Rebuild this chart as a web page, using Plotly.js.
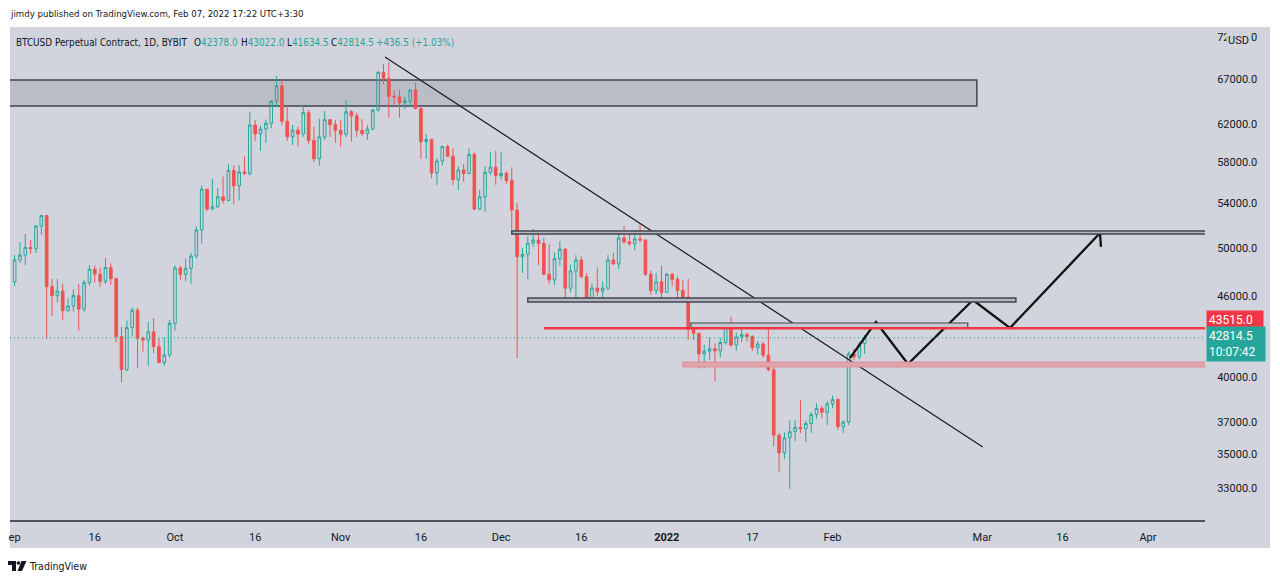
<!DOCTYPE html>
<html>
<head>
<meta charset="utf-8">
<script src="https://cdn.plot.ly/plotly-3.0.1.min.js"></script>
<style>
html,body{margin:0;padding:0;background:#ffffff;}
#chart{width:1280px;height:584px;}
</style>
</head>
<body>
<div id="chart"></div>
<script>
// ---- DATA (BTCUSD Perpetual, 1D, from 2021-09-01) ----
const firstDay = '2021-09-01';
const opens = [
  // Sep
  47150,48980,49400,50060,49950,51950,52890,46770,46040,46420,44860,45230,46050,44990,47090,
  48200,47800,47200,48350,47420,42900,40520,43570,44900,42780,42650,43250,42160,41010,41550,
  // Oct
  43900,48310,47780,48280,49320,51600,55360,53490,53700,54640,54300,57200,55700,57040,56900,
  61870,60920,61440,62060,64460,66200,62280,60620,61320,60920,63210,60240,58360,60610,62450,61900,
  // Nov
  61300,60900,63300,62860,61300,60950,61440,63500,67780,67080,65010,64950,64300,64490,65740,
  63650,60110,60350,56950,58130,59600,58620,56290,57240,56890,58810,53490,54630,57000,57520,
  // Dec
  56680,56900,56190,53400,49260,49460,50430,50700,50400,47790,47330,49100,49900,46650,48060,
  48980,47580,45860,46660,46400,46650,48980,48650,50880,50530,50380,50800,50700,47790,46470,47160,
  // Jan
  46310,47780,47360,46470,45940,43460,43150,41630,41830,42000,41850,42460,43590,42280,42870,
  43050,42900,42080,42350,41540,40510,36170,35080,36000,36390,36660,36580,36910,37480,37890,37630,
  // Feb
  38180,38470,36700,37000,41630,41410,42378
];
const highs = [
  49400,50520,51230,50700,52040,52980,52950,47400,47400,47030,45850,46550,47000,47310,48540,
  48500,48300,49150,48700,47500,43640,44100,45100,45100,42900,44000,44300,42800,42850,44150,
  48500,48500,49100,49600,51900,55700,55400,56350,55500,56590,57800,57700,57700,58600,63300,
  62400,61800,62470,64610,67350,66880,63990,61870,61700,63990,63500,61690,62540,63380,62500,62400,
  62400,64600,63500,63200,62500,61870,63600,67900,68780,69000,65740,65740,65000,65800,66570,
  63800,60900,60400,58400,59700,59800,59450,57600,57840,59400,59000,55300,57600,59000,59200,
  59060,57100,57500,54060,50000,51000,51710,51300,50900,50350,49600,50600,50000,48600,49400,
  49300,47900,47000,48360,47200,49400,49600,51440,51950,51300,51440,52100,50750,48100,47900,48500,
  47900,47900,47600,47300,47400,43700,43150,42300,42850,42400,42800,43950,44400,43200,43450,
  43200,43000,42550,42500,43550,40900,36300,36350,37100,37100,38420,37100,37650,38210,38060,38380,
  38730,38540,37100,41800,42020,42500,43022
];
const lows = [
  46830,48750,48560,49490,49600,51170,42720,44470,45530,44150,44800,44800,43340,44780,46860,
  47100,46770,47000,46900,42450,39640,40400,42900,40600,41800,40800,41670,40980,40790,41350,
  43340,47300,47200,47000,49100,50400,53300,53400,53600,54000,54200,53940,54300,56740,56700,
  60200,59180,60010,61520,63850,61870,60190,59760,59600,60620,59900,58040,57700,60290,60600,60000,
  59550,60600,60120,60600,60700,60300,61300,63300,66420,62660,64150,62660,63600,63900,63600,
  58360,58360,56420,55770,57700,58500,55770,55290,56080,56800,53400,53400,53240,56740,55800,
  56300,55900,51600,41330,47900,47380,50100,48550,47700,47000,46900,48500,45700,46300,45860,
  47500,45500,45500,46000,45600,46500,48600,48200,50400,50200,49800,50500,47650,46150,46150,45750,
  46300,46800,45700,45600,42650,42650,40600,40600,41200,39700,41400,42300,42150,41870,42500,
  42550,41850,41600,41350,40400,35480,33950,34700,32960,35800,36300,35750,36320,37220,37250,36800,
  37890,36490,36300,36800,41200,41250,41634.5
];
const closes = [
  48980,49400,50060,49950,51950,52890,46770,46040,46420,44860,45230,46050,44990,47090,48200,
  47800,47200,48350,47420,42900,40520,43570,44900,42780,42650,43250,42160,41010,41550,43900,
  48310,47780,48280,49320,51600,55360,53490,53700,54640,54300,57200,55700,57040,56900,61870,
  60920,61440,62060,64460,66200,62280,60620,61320,60920,63210,60240,58360,60610,62450,61900,61300,
  60900,63300,62860,61300,60950,61440,63500,67780,67080,65010,64950,64300,64490,65740,63650,
  60110,60350,56950,58130,59600,58620,56290,57240,56890,58810,53490,54630,57000,57520,56680,
  56900,56190,53400,49260,49460,50430,50700,50400,47790,47330,49100,49900,46650,48060,48980,
  47580,45860,46660,46400,46650,48980,48650,50880,50530,50380,50800,50700,47790,46470,47160,46310,
  47780,47360,46470,45940,43460,43150,41630,41830,42000,41850,42460,43590,42280,42870,43050,
  42900,42080,42350,41540,40510,36170,35080,36000,36390,36660,36580,36910,37480,37890,37630,38180,
  38470,36700,37000,41630,41410,42260,42814.5
];

// axis ticks
const xTickVals = ['2021-09-01','2021-09-16','2021-10-01','2021-10-16','2021-11-01','2021-11-16',
  '2021-12-01','2021-12-16','2022-01-01','2022-01-17','2022-02-01','2022-03-01','2022-03-16','2022-04-01'];
const xTickText = ['ep','16','Oct','16','Nov','16','Dec','16','<b>2022</b>','17','Feb','Mar','16','Apr'];
const yTickVals = [33000,35000,37000,40000,46000,50000,54000,58000,62000,67000,72000];
const yTickText = yTickVals.map(v => v.toFixed(1));

// header texts
const publishedText = 'jimdy published on TradingView.com, Feb 07, 2022 17:22 UTC+3:30';
const symbolText = 'BTCUSD Perpetual Contract, 1D, BYBIT';
const ohlcLabels = ['O', 'H', 'L', 'C'];
const ohlcValues = ['42378.0', '43022.0', '41634.5', '42814.5'];
const changeText = '+436.5 (+1.03%)';
const lastPriceLabel = '42814.5';
const countdownLabel = '10:07:42';
const levelLabel = '43515.0';

// drawings (dates, prices)
const zoneTop = {x0:'2021-07-01', x1:'2022-02-28', y0:63940, y1:66880};
const zoneHigh = {x0:'2021-12-03', x1:'2022-06-01', y0:51240, y1:51500};
const zoneMid = {x0:'2021-12-06', x1:'2022-03-07 07:00', y0:45550, y1:45860};
const zoneSmall = {x0:'2022-01-05 12:00', x1:'2022-02-26 07:00', y0:43515, y1:43920};
const zonePink = {x0:'2022-01-04', x1:'2022-06-01', y0:40700, y1:41050};
const redLevel = {x0:'2021-12-09', x1:'2022-06-01', y:43515};
const lastPrice = 42814.5;
const trendX = ['2021-11-09 06:43','2022-03-01 02:24'];
const trendY = [69600, 35440];
const pathX = ['2022-02-04 06:14','2022-02-09 03:00','2022-02-15 02:40','2022-02-27 06:30','2022-03-06 04:30','2022-03-23 00:40'];
const pathY = [41330, 44000, 40910, 45700, 43540, 51320];
const headX = ['2022-03-20 14:00','2022-03-23 00:40','2022-03-23 05:00'];
const headY = [51320, 51320, 50100];

// ---- build ----
const dates = opens.map((_, i) => {
  const d = new Date(Date.UTC(2021, 8, 1 + i));
  return d.toISOString().slice(0, 10);
});

// pixel -> paper helpers for labels placed in screen space
const PL = 10, PR = 1205, PT = 27, PB = 520;
const px = x => (x - PL) / (PR - PL);
const py = y => (PB - y) / (PB - PT);

const GREEN = '#26a69a', RED = '#ef5350', BG = '#d1d4dc', INK = '#131722', EDGE = '#434651';
const FONT = 'Roboto, "Liberation Sans", sans-serif';

// pick a narrow face if present, then fit header font sizes to the reference text widths
const ctx = document.createElement('canvas').getContext('2d');
function textWidth(t, size, fam) { ctx.font = `${size}px ${fam}`; return ctx.measureText(t).width; }
function hasFont(fam) {
  const s = 'abcdefghijklmnopqrstuvwxyz0123456789ABCDEF';
  return textWidth(s, 30, fam + ', monospace') !== textWidth(s, 30, 'monospace') ||
         textWidth(s, 30, fam + ', serif') !== textWidth(s, 30, 'serif');
}
const NARROW_CANDS = ['"Liberation Sans Narrow"', '"DejaVu Sans Condensed"', '"Roboto Condensed"'];
let HEAD = 'Roboto';
for (const f of NARROW_CANDS) { if (hasFont(f)) { HEAD = f; break; } }
const HEADFAM = HEAD + ', Roboto, sans-serif';
const fit = (t, target, maxSize) => Math.min(maxSize, 12 * target / textWidth(t, 12, HEADFAM));
const pubSize = fit(publishedText, 293, 12.5);
const symSize = fit(symbolText, 171, 12.5);
const logoSize = fit('TradingView', 57, 13);

const traces = [
  {
    type: 'candlestick', x: dates, open: opens, high: highs, low: lows, close: closes,
    increasing: {line: {color: GREEN, width: 1}, fillcolor: 'rgba(0,0,0,0)'},
    decreasing: {line: {color: RED, width: 1}, fillcolor: RED},
    whiskerwidth: 0, hoverinfo: 'skip', showlegend: false
  },
  {type: 'scatter', mode: 'lines', x: trendX, y: trendY, line: {color: '#1b1b1f', width: 1.2}, hoverinfo: 'skip', showlegend: false},
  {type: 'scatter', mode: 'lines', x: pathX, y: pathY, line: {color: '#111111', width: 2.3}, hoverinfo: 'skip', showlegend: false},
  {type: 'scatter', mode: 'lines', x: headX, y: headY, line: {color: '#111111', width: 2.3}, hoverinfo: 'skip', showlegend: false}
];

const rect = (z, fill, line, lw, layer) => ({type:'rect', xref:'x', yref:'y', x0:z.x0, x1:z.x1, y0:z.y0, y1:z.y1,
  fillcolor: fill, line: {color: line, width: lw}, layer: layer});

const shapes = [
  {type:'rect', xref:'paper', yref:'paper', x0:px(10), x1:px(1270), y0:py(548), y1:py(27), fillcolor:BG, line:{width:0}, layer:'below'},
  rect(zoneTop, '#babdc6', EDGE, 1.5, 'below'),
  rect(zoneHigh, '#b4b7c0', EDGE, 1.5, 'above'),
  rect(zoneMid, '#b4b7c0', EDGE, 1.5, 'above'),
  rect(zoneSmall, '#c4c7cf', EDGE, 1.2, 'above'),
  rect(zonePink, '#dfa5ae', '#e38c98', 1, 'above'),
  {type:'line', xref:'x', yref:'y', x0:redLevel.x0, x1:redLevel.x1, y0:redLevel.y, y1:redLevel.y, line:{color:'#f23645', width:2.5}, layer:'above'},
  {type:'line', xref:'paper', yref:'y', x0:0, x1:1, y0:lastPrice, y1:lastPrice, line:{color:GREEN, width:1, dash:'1px,3px'}, layer:'above'},
  // TradingView logo
  {type:'path', xref:'paper', yref:'paper', path:`M${px(8)},${py(561)} L${px(16)},${py(561)} L${px(16)},${py(571)} L${px(12)},${py(571)} L${px(12)},${py(565)} L${px(8)},${py(565)} Z`, fillcolor:INK, line:{width:0}},
  {type:'circle', xref:'paper', yref:'paper', x0:px(16.6), x1:px(20.2), y0:py(564.8), y1:py(561.2), fillcolor:INK, line:{width:0}},
  {type:'path', xref:'paper', yref:'paper', path:`M${px(21.5)},${py(561)} L${px(26.5)},${py(561)} L${px(22)},${py(571)} L${px(17.5)},${py(571)} Z`, fillcolor:INK, line:{width:0}}
];

const ann = (text, x, y, size, color, fam, extra) => Object.assign({
  text: text, xref:'paper', yref:'paper', x: px(x), y: py(y), xanchor:'left', yanchor:'middle',
  showarrow:false, font:{family:fam, size:size, color:color}
}, extra || {});

const tv = s => `<span style="color:${GREEN}">${s}</span>`;
const ohlcX = [192, 239, 285, 329];
const annotations = [
  ann(publishedText, 8, 14, pubSize, INK, HEADFAM),
  ann(symbolText, 14, 42, symSize, INK, HEADFAM),
  ...ohlcLabels.map((l, i) => ann(l + tv(ohlcValues[i]), ohlcX[i], 42, symSize, INK, HEADFAM)),
  ann(tv(changeText), 374, 42, symSize, INK, HEADFAM),
  ann('USD', 1226, 41, 11, INK, FONT, {bgcolor: BG, borderpad: 1}),
  ann(levelLabel, 1206, 320, 12, '#ffffff', FONT, {bgcolor:'#f23645', borderpad:2, width:52, align:'left'}),
  ann(lastPriceLabel + '<br>' + countdownLabel, 1206, 344, 12, '#ffffff', FONT, {bgcolor:GREEN, borderpad:2, width:54, align:'left'}),
  ann('TradingView', 27, 566, logoSize, INK, HEADFAM)
];

const layout = {
  width: 1280, height: 584,
  margin: {l: PL, r: 1280 - PR, t: PT, b: 584 - PB, pad: 0},
  paper_bgcolor: '#ffffff', plot_bgcolor: BG,
  showlegend: false, hovermode: false, dragmode: false,
  font: {family: FONT, size: 11, color: INK},
  xaxis: {
    type: 'date', range: ['2021-08-31 03:22', '2022-04-11 16:05'],
    rangeslider: {visible: false}, showgrid: false, zeroline: false,
    showline: true, linecolor: '#50535e', linewidth: 1.5,
    tickmode: 'array', tickvals: xTickVals, ticktext: xTickText,
    ticks: 'outside', ticklen: 6, tickcolor: 'rgba(0,0,0,0)',
    tickfont: {family: FONT, size: 11, color: INK}, fixedrange: true
  },
  yaxis: {
    type: 'log', side: 'right', range: [Math.log10(31230), Math.log10(73310)],
    showgrid: false, zeroline: false, showline: false,
    tickmode: 'array', tickvals: yTickVals, ticktext: yTickText,
    ticks: 'outside', ticklen: 9, tickcolor: 'rgba(0,0,0,0)',
    tickfont: {family: FONT, size: 11, color: INK}, fixedrange: true
  },
  shapes: shapes,
  annotations: annotations
};

Plotly.newPlot('chart', traces, layout, {staticPlot: true, displayModeBar: false});
</script>
</body>
</html>
